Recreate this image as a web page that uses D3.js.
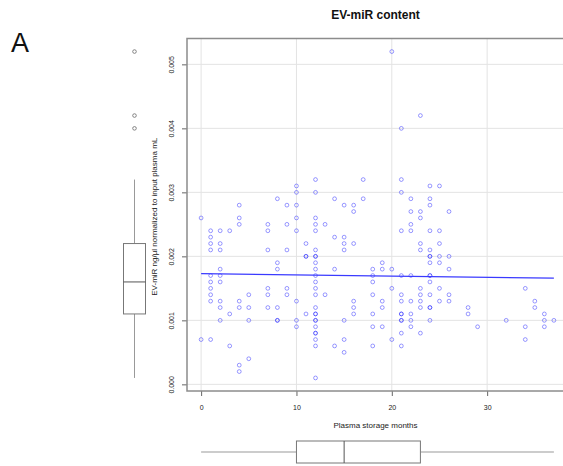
<!DOCTYPE html>
<html><head><meta charset="utf-8">
<script src="https://cdn.jsdelivr.net/npm/d3@7"></script>
<style>
body{margin:0;background:#fff}
svg{display:block}
text{font-family:"Liberation Sans",Arial,Helvetica,sans-serif}
</style>
</head><body>
<svg id="chart" width="563" height="466"></svg>
<script>
// ---- data ----
const storageMonths = [0,1,2,3,4,5,7,8,9,10,11,12,13,14,15,16,17,18,19,20,21,22,23,24,25,26,28,29,32,34,35,36,37];
const mirByMonth = [
  [0.0026,0.0007],
  [0.0024,0.0023,0.0022,0.0021,0.0017,0.0016,0.0015,0.0014,0.0013,0.0007],
  [0.0024,0.0022,0.0021,0.0018,0.0017,0.0016,0.0013,0.0012,0.0010],
  [0.0024,0.0011,0.0006],
  [0.0028,0.0026,0.0025,0.0013,0.0012,0.0003,0.0002],
  [0.0014,0.0012,0.0010,0.0004],
  [0.0025,0.0024,0.0021,0.0015,0.0014,0.0012],
  [0.0029,0.0019,0.0018,0.0012,0.0010,0.0010],
  [0.0028,0.0025,0.0021,0.0015,0.0014],
  [0.0031,0.0030,0.0028,0.0026,0.0024,0.0013,0.0010,0.0009],
  [0.0022,0.0020,0.0020,0.0011],
  [0.0032,0.0030,0.0026,0.0025,0.0024,0.0021,0.0020,0.0020,0.0019,0.0018,0.0017,0.0016,0.0015,0.0014,0.0012,0.0011,0.0011,0.0010,0.0010,0.0009,0.0008,0.0008,0.0007,0.0006,0.0001],
  [0.0025,0.0014],
  [0.0029,0.0023,0.0018,0.0006],
  [0.0028,0.0023,0.0022,0.0021,0.0010,0.0007,0.0005],
  [0.0028,0.0027,0.0022,0.0013,0.0012,0.0011],
  [0.0032,0.0029],
  [0.0018,0.0017,0.0016,0.0014,0.0011,0.0009,0.0006],
  [0.0019,0.0018,0.0013,0.0012,0.0009],
  [0.0052,0.0018,0.0015,0.0007],
  [0.0040,0.0032,0.0030,0.0024,0.0017,0.0014,0.0013,0.0011,0.0011,0.0010,0.0010,0.0008,0.0006],
  [0.0029,0.0027,0.0025,0.0024,0.0017,0.0013,0.0011,0.0010,0.0009],
  [0.0042,0.0027,0.0026,0.0022,0.0021,0.0015,0.0014,0.0013,0.0012,0.0008],
  [0.0031,0.0029,0.0028,0.0024,0.0021,0.0020,0.0020,0.0019,0.0017,0.0017,0.0016,0.0014,0.0012,0.0012,0.0010],
  [0.0031,0.0024,0.0022,0.0020,0.0019,0.0015,0.0013],
  [0.0027,0.0020,0.0018,0.0014,0.0013],
  [0.0012,0.0011],
  [0.0009],
  [0.0010],
  [0.0015,0.0009,0.0007],
  [0.0013,0.0012],
  [0.0011,0.0010,0.0009],
  [0.0010]
];
const xTicks = [0,10,20,30];
const yTicks = [0.000,0.001,0.002,0.003,0.004,0.005];
const yTickLabels = ["0.000","0.001","0.002","0.003","0.004","0.005"];
const fitMonths = [0,37];
const fitValues = [0.00173,0.00166];
const monthBox = [0,10,15,23,37];           // whisker low, q1, median, q3, whisker high
const mirBox = [0.0001,0.0011,0.0016,0.0022,0.0032];
const mirOutliers = [0.0052,0.0042,0.0040];
const titleText = "EV-miR content";
const xTitle = "Plasma storage months";
const yTitle = "EV-miR ng/\u00b5l normalized to input plasma mL";
const panelLabel = "A";

// ---- drawing ----
const svg = d3.select("#chart");
const pl = 187, pr = 568, pt = 38.5, pb = 391;
const x = d3.scaleLinear().domain([-1.48, 38.48]).range([pl, pr]);
const y = d3.scaleLinear().domain([-0.000104, 0.005404]).range([pb, pt]);

const points = [];
storageMonths.forEach((m,i)=>mirByMonth[i].forEach(v=>points.push({m, v})));

// grid
const grid = svg.append("g").attr("stroke","#e3e3e3").attr("stroke-width",1);
grid.selectAll("line.v").data(xTicks).join("line").attr("class","v")
  .attr("x1",d=>x(d)).attr("x2",d=>x(d)).attr("y1",pt).attr("y2",pb);
grid.selectAll("line.h").data(yTicks).join("line").attr("class","h")
  .attr("x1",pl).attr("x2",pr).attr("y1",d=>y(d)).attr("y2",d=>y(d));

// axes
const xAxis = d3.axisBottom(x).tickValues(xTicks).tickSize(5).tickPadding(9).tickFormat(d3.format("d"));
const gx = svg.append("g").attr("transform",`translate(0,${pb})`).call(xAxis);
gx.select(".domain").remove();
gx.selectAll("line").attr("stroke","#666");
gx.selectAll("text").attr("font-size","7px").attr("fill","#222")
  .attr("font-family",'"Liberation Sans",Arial,sans-serif');

const yAxis = d3.axisLeft(y).tickValues(yTicks).tickSize(5).tickFormat((d,i)=>yTickLabels[i]);
const gy = svg.append("g").attr("transform",`translate(${pl},0)`).call(yAxis);
gy.select(".domain").remove();
gy.selectAll("line").attr("stroke","#666");
gy.selectAll("text").attr("font-size","7px").attr("fill","#222")
  .attr("font-family",'"Liberation Sans",Arial,sans-serif')
  .attr("text-anchor","middle").attr("dy",null)
  .attr("x",null)
  .attr("transform","translate(-13.5,0) rotate(-90)")
  .attr("y",0).attr("dy","0em");

// frame
svg.append("rect").attr("x",pl).attr("y",pt).attr("width",pr-pl).attr("height",pb-pt)
  .attr("fill","none").attr("stroke","#8c8c8c").attr("stroke-width",1.5);

// points
svg.append("g").selectAll("circle").data(points).join("circle")
  .attr("cx",d=>x(d.m)).attr("cy",d=>y(d.v)).attr("r",1.9)
  .attr("fill","none").attr("stroke","#1f1fff").attr("stroke-opacity",0.5).attr("stroke-width",0.9);

// fit line
svg.append("path").datum(fitMonths.map((m,i)=>[m,fitValues[i]]))
  .attr("d",d3.line().x(d=>x(d[0])).y(d=>y(d[1])))
  .attr("stroke","#3a3aff").attr("stroke-width",1.3).attr("fill","none");

// left boxplot (y)
const bxC = 134.5, bxW = 22;
const lb = svg.append("g");
lb.append("line").attr("x1",bxC).attr("x2",bxC).attr("y1",y(mirBox[0])).attr("y2",y(mirBox[1]))
  .attr("stroke","#999").attr("stroke-width",1);
lb.append("line").attr("x1",bxC).attr("x2",bxC).attr("y1",y(mirBox[3])).attr("y2",y(mirBox[4]))
  .attr("stroke","#999").attr("stroke-width",1);
lb.append("rect").attr("x",bxC-bxW/2).attr("y",y(mirBox[3])).attr("width",bxW).attr("height",y(mirBox[1])-y(mirBox[3]))
  .attr("fill","#fff").attr("stroke","#777").attr("stroke-width",1);
lb.append("line").attr("x1",bxC-bxW/2).attr("x2",bxC+bxW/2).attr("y1",y(mirBox[2])).attr("y2",y(mirBox[2]))
  .attr("stroke","#555").attr("stroke-width",1);
lb.selectAll("circle").data(mirOutliers).join("circle")
  .attr("cx",bxC).attr("cy",d=>y(d)).attr("r",1.8)
  .attr("fill","none").attr("stroke","#777").attr("stroke-width",0.9);

// bottom boxplot (x)
const byC = 452, byH = 22;
const bb = svg.append("g");
bb.append("line").attr("y1",byC).attr("y2",byC).attr("x1",x(monthBox[0])).attr("x2",x(monthBox[1]))
  .attr("stroke","#999").attr("stroke-width",1);
bb.append("line").attr("y1",byC).attr("y2",byC).attr("x1",x(monthBox[3])).attr("x2",x(monthBox[4]))
  .attr("stroke","#999").attr("stroke-width",1);
bb.append("rect").attr("y",byC-byH/2).attr("x",x(monthBox[1])).attr("height",byH).attr("width",x(monthBox[3])-x(monthBox[1]))
  .attr("fill","#fff").attr("stroke","#777").attr("stroke-width",1);
bb.append("line").attr("y1",byC-byH/2).attr("y2",byC+byH/2).attr("x1",x(monthBox[2])).attr("x2",x(monthBox[2]))
  .attr("stroke","#555").attr("stroke-width",1);

// texts
svg.append("text").attr("x",(pl+pr)/2 - 2).attr("y",18.5).attr("text-anchor","middle")
  .attr("font-size","12px").attr("font-weight","bold").attr("fill","#111").text(titleText);
svg.append("text").attr("x",11).attr("y",52).attr("font-size","27px").attr("fill","#111").text(panelLabel);
svg.append("text").attr("x",(pl+pr)/2 - 2).attr("y",428).attr("text-anchor","middle")
  .attr("font-size","8px").attr("fill","#222").text(xTitle);
svg.append("text").attr("transform",`translate(157,${(pt+pb)/2 + 2}) rotate(-90)`).attr("text-anchor","middle")
  .attr("font-size","8px").attr("fill","#222").text(yTitle);
</script>
</body></html>
